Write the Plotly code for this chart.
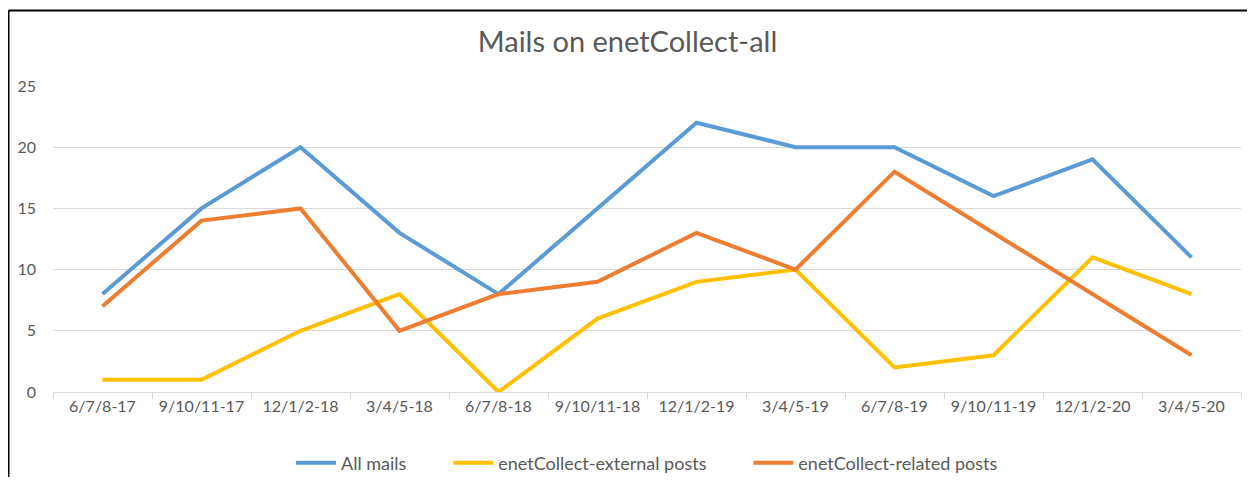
"""Mails on enetCollect-all: quarterly line chart."""

import plotly.graph_objects as go

periods = [
    "6/7/8-17", "9/10/11-17", "12/1/2-18", "3/4/5-18",
    "6/7/8-18", "9/10/11-18", "12/1/2-19", "3/4/5-19",
    "6/7/8-19", "9/10/11-19", "12/1/2-20", "3/4/5-20",
]
all_mails = [8, 15, 20, 13, 8, 15, 22, 20, 20, 16, 19, 11]
external_posts = [1, 1, 5, 8, 0, 6, 9, 10, 2, 3, 11, 8]
related_posts = [7, 14, 15, 5, 8, 9, 13, 10, 18, 13, 8, 3]

TEXT = "#595959"
GRID = "#d9d9d9"
FONT = "Lato, 'Open Sans', sans-serif"

# page body has an 8px margin; keep the figure inside the 1255x485 window
W, H = 1239, 469
L, R, T, B = 45, 6, 78, 85
PW, PH = W - L - R, H - T - B

GAP = "\u00a0" * 8  # Excel spaces its legend entries widely

series = [
    ("All mails", all_mails, "#5B9BD5", GAP),
    ("enetCollect-external posts", external_posts, "#FFC000", GAP),
    ("enetCollect-related posts", related_posts, "#ED7D31", ""),
]

fig = go.Figure()
for name, values, color, pad in series:
    fig.add_trace(go.Scatter(
        x=periods, y=values, mode="lines", name=name + pad,
        line=dict(color=color, width=4),
        hovertemplate=name + ": %{y}<extra></extra>",
    ))

fig.update_layout(
    width=W, height=H,
    margin=dict(l=L, r=R, t=T, b=B, autoexpand=False),
    paper_bgcolor="white", plot_bgcolor="white",
    font=dict(family=FONT, color=TEXT, size=16),
    title=dict(text="Mails on enetCollect-all", x=0.5, xanchor="center",
               y=1 - 34 / H, yanchor="middle",
               font=dict(size=29, color=TEXT, family=FONT)),
    legend=dict(orientation="h", x=0.5, xanchor="center",
                yref="container", y=1 - 455 / H, yanchor="middle",
                font=dict(size=18, color=TEXT), itemwidth=40),
    showlegend=True,
)

fig.update_xaxes(
    type="category", range=[-0.5, len(periods) - 0.5],
    showgrid=False, showline=True, linecolor=GRID,
    linewidth=1, ticks="outside", tickson="boundaries", ticklen=6,
    tickcolor=GRID, tickangle=0, tickfont=dict(size=16, color=TEXT),
)
fig.update_yaxes(
    range=[0, 25], dtick=5, showgrid=True, gridcolor=GRID, gridwidth=1,
    zeroline=False, showline=False, ticks="", ticklabelstandoff=16,
    tickfont=dict(size=16, color=TEXT),
)

# outer frame of the chart object (top and left edges visible)
fx = (0.5 - L) / PW
fy = (T + PH - 2.5) / PH
fig.add_shape(type="line", xref="paper", yref="paper",
              x0=fx, x1=1.2, y0=fy, y1=fy,
              line=dict(color="black", width=2))
fig.add_shape(type="line", xref="paper", yref="paper",
              x0=fx, x1=fx, y0=-0.4, y1=fy,
              line=dict(color="black", width=2))

fig.write_html("out.html")
